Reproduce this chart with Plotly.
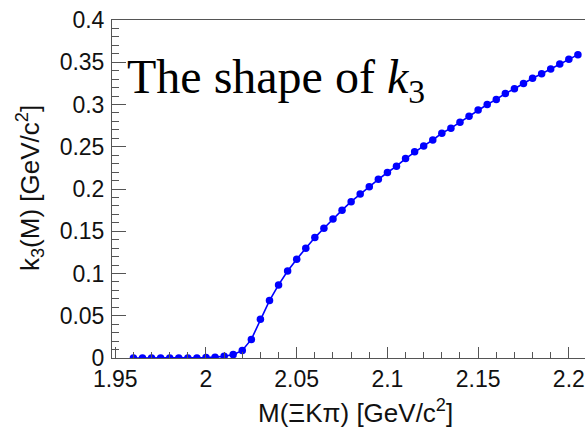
import plotly.graph_objects as go

# Invariant mass M(ΞKπ) in GeV/c^2 and the corresponding k3(M) in GeV/c^2
mass = [1.960, 1.965, 1.970, 1.975, 1.980, 1.985, 1.990, 1.995, 2.000, 2.005,
        2.010, 2.015, 2.020, 2.025, 2.030, 2.035, 2.040, 2.045, 2.050, 2.055,
        2.060, 2.065, 2.070, 2.075, 2.080, 2.085, 2.090, 2.095, 2.100, 2.105,
        2.110, 2.115, 2.120, 2.125, 2.130, 2.135, 2.140, 2.145, 2.150, 2.155,
        2.160, 2.165, 2.170, 2.175, 2.180, 2.185, 2.190, 2.195, 2.200, 2.205]
k3 = [0.0, 0.0, 0.0, 0.0, 0.0, 0.0, 0.0, 0.0, 0.0005, 0.001,
      0.002, 0.004, 0.009, 0.022, 0.046, 0.068, 0.0865, 0.103, 0.117, 0.130,
      0.1425, 0.1535, 0.1645, 0.175, 0.185, 0.194, 0.2027, 0.2114, 0.2195, 0.227,
      0.236, 0.244, 0.251, 0.258, 0.266, 0.272, 0.279, 0.286, 0.2935, 0.300,
      0.306, 0.313, 0.3186, 0.325, 0.331, 0.3364, 0.342, 0.348, 0.3535, 0.359]

x_ticks = [1.95, 2.0, 2.05, 2.1, 2.15, 2.2]
x_tick_text = ["1.95", "2", "2.05", "2.1", "2.15", "2.2"]
y_ticks = [0, 0.05, 0.1, 0.15, 0.2, 0.25, 0.3, 0.35, 0.4]
y_tick_text = ["0", "0.05", "0.1", "0.15", "0.2", "0.25", "0.3", "0.35", "0.4"]

W, H = 585, 428
ML, MR, MT, MB = 112, 0, 20, 70

sans = "Liberation Sans, Arial, sans-serif"
serif = "Liberation Serif, Times New Roman, serif"
axis_col = "#555555"

fig = go.Figure(go.Scatter(
    x=mass, y=k3, mode="lines+markers",
    line=dict(color="#0000ff", width=1.6),
    marker=dict(color="#0000ff", size=7.5),
    hoverinfo="skip",
))

fig.update_layout(
    width=W, height=H,
    margin=dict(l=ML, r=MR, t=MT, b=MB, autoexpand=False),
    paper_bgcolor="white", plot_bgcolor="white",
    showlegend=False,
)

fig.update_xaxes(
    range=[1.9482, 2.2089],
    tickvals=x_ticks, ticktext=x_tick_text,
    ticks="inside", ticklen=11, tickwidth=1, tickcolor=axis_col,
    minor=dict(dtick=0.01, tick0=1.95, ticks="inside", ticklen=6,
               tickwidth=1, tickcolor=axis_col),
    showline=True, linecolor=axis_col, linewidth=1, mirror=True,
    showgrid=False, zeroline=False,
    tickfont=dict(family=sans, size=23, color="#111111"),
)
fig.update_yaxes(
    range=[0, 0.4],
    tickvals=y_ticks, ticktext=y_tick_text,
    ticks="inside", ticklen=14, tickwidth=1, tickcolor=axis_col,
    minor=dict(dtick=0.01, tick0=0, ticks="inside", ticklen=7,
               tickwidth=1, tickcolor=axis_col),
    showline=True, linecolor=axis_col, linewidth=1,
    showgrid=False, zeroline=False,
    tickfont=dict(family=sans, size=23, color="#111111"),
    ticklabelstandoff=2,
)

pw = W - ML - MR
ph = H - MT - MB


def px_x(px):
    return (px - ML) / pw


def px_y(py):
    return 1 - (py - MT) / ph


# Axis titles
fig.add_annotation(
    text="M(ΞKπ) [GeV/c<sup>2</sup>]", xref="paper", yref="paper",
    x=px_x(355), y=px_y(430), xanchor="center", yanchor="bottom",
    showarrow=False, font=dict(family=sans, size=26, color="#111111"),
)
fig.add_annotation(
    text="k<sub>3</sub>(M) [GeV/c<sup>2</sup>]", xref="paper", yref="paper",
    x=px_x(10), y=px_y(188), xanchor="left", yanchor="middle", textangle=-90,
    showarrow=False, font=dict(family=sans, size=26, color="#111111"),
)

# Caption inside the frame
fig.add_annotation(
    text="The shape of <i>k</i><sub>3</sub>", xref="paper", yref="paper",
    x=px_x(125), y=px_y(48), xanchor="left", yanchor="top",
    showarrow=False, font=dict(family=serif, size=48, color="#000000"),
)

fig.write_html("out.html")
